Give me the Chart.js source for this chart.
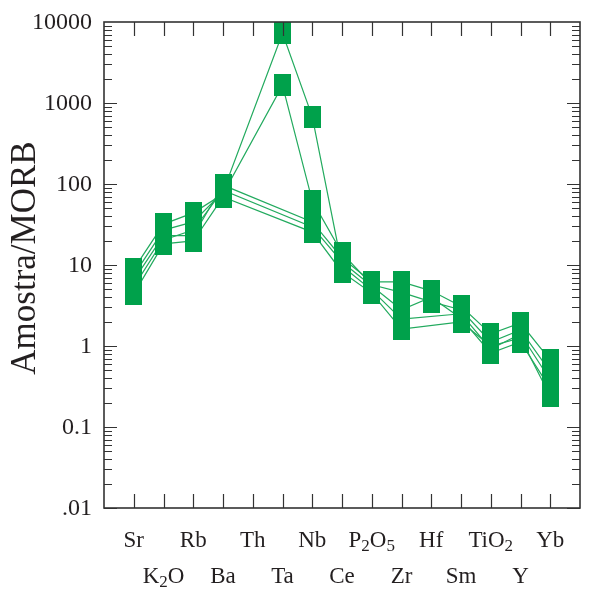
<!DOCTYPE html>
<html><head><meta charset="utf-8">
<script src="https://cdn.jsdelivr.net/npm/chart.js@4"></script>
<style>html,body{margin:0;padding:0;background:#fff}</style>
</head><body>
<canvas id="c" width="589" height="602"></canvas>
<script>
// ---- data ----
const categories = ['Sr','K2O','Rb','Ba','Th','Ta','Nb','Ce','P2O5','Zr','Hf','Sm','TiO2','Y','Yb'];
const sample1 = [7.5, 27, 34, 80, null, 7250, 680, 9.7, 4.9, 2.15, null, 2.5, 0.92, 1.41, 0.38];
const sample2 = [8.9, 32, 44, 75, null, 1650, 62, 14, 5.7, 4.6, 3.5, 2.8, 1.12, 1.58, 0.48];
const sample3 = [6.5, 23, 23, 97, null, null, 34, 12.2, 6.2, 6.2, 4.8, 3.1, 1.41, 1.92, 0.67];
const sample4 = [5.4, 20.4, 27, 84, null, null, 29.5, 10.9, 5.5, 2.8, 4.0, 2.2, 0.82, 1.12, 0.30];
const sample5 = [4.4, 18.2, 19.8, 69, null, null, 25.5, 8.2, 4.5, 1.62, null, 1.98, 1.0, 1.26, 0.24];
const seriesList = [sample1, sample2, sample3, sample4, sample5];
const yTickValues = [10000, 1000, 100, 10, 1, 0.1, 0.01];
const yTickLabels = ['10000', '1000', '100', '10', '1', '0.1', '.01'];
const yTitle = 'Amostra/MORB';

const GREEN = '#00a14b';
const LINE = '#22aa5e';
const SERIF = '"Liberation Serif", "Times New Roman", serif';

// marker image (rectangle)
const mark = document.createElement('canvas');
mark.width = 17; mark.height = 22;
(function(){
  const c = mark.getContext('2d');
  c.fillStyle = GREEN; c.fillRect(0,0,17,22);
})();

const toPts = arr => arr.map((v,i) => ({x:i, y:v}));
const datasets = [];
seriesList.forEach(s => datasets.push({
  data: toPts(s), borderColor: LINE, borderWidth: 1.2, pointRadius: 0,
  spanGaps: true, fill: false, tension: 0, order: 2, clip: false
}));
seriesList.forEach(s => datasets.push({
  data: toPts(s), showLine: false, pointStyle: mark, pointRadius: 9,
  borderWidth: 0, order: 1, clip: false
}));

function drawSubLabel(ctx, text, cx, baseY, size) {
  const parts = [];
  for (const ch of text) {
    const sub = /[0-9]/.test(ch);
    const last = parts[parts.length-1];
    if (last && last.sub === sub) last.t += ch; else parts.push({t: ch, sub});
  }
  const subSize = Math.round(size * 0.74);
  let w = 0;
  parts.forEach(p => { ctx.font = (p.sub ? subSize : size) + 'px ' + SERIF; p.w = ctx.measureText(p.t).width; w += p.w; });
  let x = cx - w/2;
  ctx.textAlign = 'left'; ctx.textBaseline = 'alphabetic';
  parts.forEach(p => {
    ctx.font = (p.sub ? subSize : size) + 'px ' + SERIF;
    ctx.fillText(p.t, x, baseY + (p.sub ? 4 : 0));
    x += p.w;
  });
}

const axesPlugin = {
  id: 'axesPlugin',
  afterDraw(chart) {
    const ctx = chart.ctx, ca = chart.chartArea;
    const xs = chart.scales.x, ys = chart.scales.y;
    ctx.save();
    ctx.strokeStyle = '#333'; ctx.lineWidth = 1.2;
    ctx.beginPath();
    for (let d = -2; d <= 3; d++) {
      for (let m = 1; m <= 9; m++) {
        const v = m * Math.pow(10, d);
        const y = Math.round(ys.getPixelForValue(v)) + 0.5;
        const len = m === 1 ? 13 : 8;
        ctx.moveTo(ca.left, y); ctx.lineTo(ca.left + len, y);
        ctx.moveTo(ca.right, y); ctx.lineTo(ca.right - len, y);
      }
    }
    categories.forEach((c, i) => {
      const x = Math.round(xs.getPixelForValue(i)) + 0.5;
      ctx.moveTo(x, ca.top); ctx.lineTo(x, ca.top + 14);
      ctx.moveTo(x, ca.bottom); ctx.lineTo(x, ca.bottom - 14);
    });
    ctx.stroke();
    ctx.lineWidth = 1.6; ctx.strokeStyle = '#333';
    ctx.strokeRect(ca.left, ca.top, ca.right - ca.left, ca.bottom - ca.top);

    ctx.fillStyle = '#231f20';
    ctx.font = '24px ' + SERIF;
    ctx.textAlign = 'right'; ctx.textBaseline = 'middle';
    yTickValues.forEach((v, i) => {
      ctx.fillText(yTickLabels[i], 92, ys.getPixelForValue(v) + 1);
    });
    categories.forEach((c, i) => {
      const x = xs.getPixelForValue(i);
      drawSubLabel(ctx, c, x, i % 2 === 0 ? 547 : 583, 23);
    });
    ctx.save();
    ctx.translate(35, 258); ctx.rotate(-Math.PI/2);
    ctx.font = '35px ' + SERIF; ctx.textAlign = 'center'; ctx.textBaseline = 'alphabetic';
    ctx.fillText(yTitle, 0, 0);
    ctx.restore();
    ctx.restore();
  }
};

new Chart(document.getElementById('c'), {
  type: 'line',
  data: { datasets },
  options: {
    responsive: false, animation: false, devicePixelRatio: 1,
    layout: { padding: { left: 104, right: 1, top: 22, bottom: 94 } },
    plugins: { legend: { display: false }, tooltip: { enabled: false } },
    scales: {
      x: { type: 'linear', min: -1, max: 15, display: false },
      y: { type: 'logarithmic', min: 0.01, max: 10000, display: false }
    }
  },
  plugins: [axesPlugin]
});
</script>
</body></html>
